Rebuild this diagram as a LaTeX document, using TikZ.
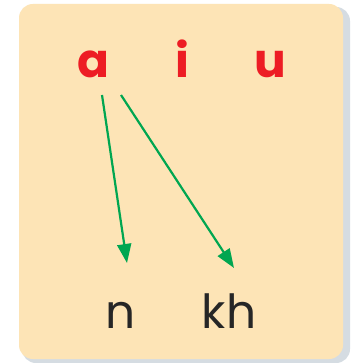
\documentclass[tikz,border=0pt]{standalone}
\usepackage{fontspec}
\setmainfont{Poppins}
\usetikzlibrary{arrows.meta}
\definecolor{peach}{HTML}{FDE4B6}
\definecolor{lred}{HTML}{ED1C24}
\definecolor{lgreen}{HTML}{00A651}
\definecolor{shade}{HTML}{B9C5CE}
\tikzset{
  vowel/.style={anchor=base, inner sep=0pt, text=lred, font=\fontsize{47}{47}\selectfont\bfseries},
  cons/.style={anchor=base, inner sep=0pt, text=black!85, font=\fontsize{47}{47}\selectfont},
  link/.style={draw=lgreen, line width=2.2pt, -{Triangle[length=19pt,width=14pt]}}
}
\begin{document}
\begin{tikzpicture}[x=1pt,y=-1pt]
\useasboundingbox (0,0) rectangle (357,363);
\fill[white] (0,0) rectangle (357,363);
\fill[shade!60, rounded corners=14pt] (22,7) rectangle (350,363);
\fill[peach, rounded corners=14pt] (19,4) rectangle (343,359);
\node[vowel] (a) at (93,78) {a};
\node[vowel] (i) at (182,78) {i};
\node[vowel] (u) at (270,78) {u};
\node[cons] (n) at (121,328) {n};
\node[cons] (kh) at (229,328) {kh};
\coordinate (s1) at (102,95);
\coordinate (e1) at (127,263);
\coordinate (s2) at (121,95);
\coordinate (e2) at (234,268);
\draw[link] (s1) -- (e1);
\draw[link] (s2) -- (e2);
\end{tikzpicture}
\end{document}
